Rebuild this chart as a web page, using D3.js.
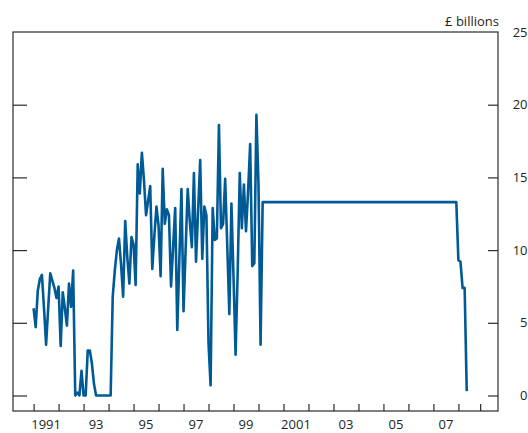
<!DOCTYPE html>
<html>
<head>
<meta charset="utf-8">
<script src="https://cdn.jsdelivr.net/npm/d3@7"></script>
<style>
  body { margin: 0; background: #fff; }
  svg { display: block; }
  text { font-family: "Open Sans", "Noto Sans", sans-serif; fill: #231f20; }
</style>
</head>
<body>
<svg id="chart" width="528" height="433"></svg>
<script>
// Monthly values, £ billions, one array per calendar year (Jan..Dec)
const y1991 = [6.0, 4.7, 7.2, 8.0, 8.3, 6.0, 3.5, 6.0, 8.4, 7.9, 7.4, 6.7];
const y1992 = [7.5, 3.4, 7.1, 6.0, 4.8, 7.7, 6.1, 8.6, 0.0, 0.2, 0.0, 1.7];
const y1993 = [0.0, 0.0, 3.1, 3.1, 2.2, 0.8, 0.0, 0.0, 0.0, 0.0, 0.0, 0.0];
const y1994 = [0.0, 0.0, 6.8, 8.6, 10.0, 10.8, 9.0, 6.8, 12.0, 9.5, 7.7, 10.9];
const y1995 = [10.4, 7.6, 15.9, 13.9, 16.7, 14.8, 12.4, 13.4, 14.4, 8.7, 11.0, 13.0];
const y1996 = [11.7, 8.2, 15.6, 11.8, 12.8, 12.4, 7.5, 10.2, 12.9, 4.5, 9.4, 14.2];
const y1997 = [5.8, 10.0, 14.2, 12.0, 10.2, 15.3, 9.2, 12.7, 16.2, 9.4, 13.0, 12.4];
const y1998 = [3.6, 0.7, 12.9, 10.7, 10.8, 18.6, 11.5, 11.8, 14.9, 10.3, 5.6, 13.2];
const y1999 = [8.2, 2.8, 8.5, 15.3, 11.5, 14.5, 11.3, 14.0, 17.3, 8.9, 9.1, 19.3];
const y2000 = [14.5, 3.5, 13.3, 13.3, 13.3, 13.3, 13.3, 13.3, 13.3, 13.3, 13.3, 13.3];
const y2001 = [13.3, 13.3, 13.3, 13.3, 13.3, 13.3, 13.3, 13.3, 13.3, 13.3, 13.3, 13.3];
const y2002 = [13.3, 13.3, 13.3, 13.3, 13.3, 13.3, 13.3, 13.3, 13.3, 13.3, 13.3, 13.3];
const y2003 = [13.3, 13.3, 13.3, 13.3, 13.3, 13.3, 13.3, 13.3, 13.3, 13.3, 13.3, 13.3];
const y2004 = [13.3, 13.3, 13.3, 13.3, 13.3, 13.3, 13.3, 13.3, 13.3, 13.3, 13.3, 13.3];
const y2005 = [13.3, 13.3, 13.3, 13.3, 13.3, 13.3, 13.3, 13.3, 13.3, 13.3, 13.3, 13.3];
const y2006 = [13.3, 13.3, 13.3, 13.3, 13.3, 13.3, 13.3, 13.3, 13.3, 13.3, 13.3, 13.3];
const y2007 = [13.3, 13.3, 13.3, 13.3, 13.3, 13.3, 13.3, 13.3, 13.3, 13.3, 13.3, 13.3];
const y2008 = [9.3, 9.2, 7.4, 7.4, 0.3];

const seriesYears = [1991, 1992, 1993, 1994, 1995, 1996, 1997, 1998, 1999,
                     2000, 2001, 2002, 2003, 2004, 2005, 2006, 2007, 2008];
const seriesValues = [y1991, y1992, y1993, y1994, y1995, y1996, y1997, y1998, y1999,
                      y2000, y2001, y2002, y2003, y2004, y2005, y2006, y2007, y2008];

// Axis furniture
const yTickValues = [0, 5, 10, 15, 20, 25];
const xTickYears = [1991, 1992, 1993, 1994, 1995, 1996, 1997, 1998, 1999, 2000,
                    2001, 2002, 2003, 2004, 2005, 2006, 2007, 2008, 2008.87];
const xLabelYears = [1991, 1993, 1995, 1997, 1999, 2001, 2003, 2005, 2007];
const xLabelText = ["1991", "93", "95", "97", "99", "2001", "03", "05", "07"];
const unitLabel = "£ billions";

// Flatten into monthly points
const points = [];
seriesValues.forEach((vals, i) => {
  vals.forEach((v, m) => points.push({ t: seriesYears[i] + m / 12, v }));
});

const svg = d3.select("#chart");
const frame = { left: 13, right: 498, top: 32, bottom: 411 };

const x = d3.scaleLinear().domain([1991, 2008]).range([33.6, 458.4]);
const y = d3.scaleLinear().domain([0, 25]).range([395.5, frame.top]);

const ink = "#2b2b2b";

// Plot frame
svg.append("rect")
  .attr("x", frame.left).attr("y", frame.top)
  .attr("width", frame.right - frame.left)
  .attr("height", frame.bottom - frame.top)
  .attr("fill", "none").attr("stroke", ink).attr("stroke-width", 1.2);

// Right value axis: inward ticks + labels outside the frame
const rightAxis = d3.axisLeft(y).tickValues(yTickValues.filter(d => d < 25))
  .tickSize(10).tickFormat("");
const gR = svg.append("g").attr("transform", `translate(${frame.right},0)`).call(rightAxis);
gR.select(".domain").remove();
gR.selectAll(".tick line").attr("stroke", ink).attr("stroke-width", 1.2);

// Left inward ticks
const leftAxis = d3.axisRight(y).tickValues(yTickValues.filter(d => d < 25))
  .tickSize(14).tickFormat("");
const gL = svg.append("g").attr("transform", `translate(${frame.left},0)`).call(leftAxis);
gL.select(".domain").remove();
gL.selectAll(".tick line").attr("stroke", ink).attr("stroke-width", 1.2);

svg.append("g").selectAll("text")
  .data(yTickValues).join("text")
  .attr("x", 527.5).attr("y", d => y(d))
  .attr("dy", "0.36em")
  .attr("text-anchor", "end")
  .attr("font-size", 13)
  .text(d => d);

// Bottom time axis: short inward ticks at year starts
const bottomAxis = d3.axisTop(x).tickValues(xTickYears).tickSize(7).tickFormat("");
const gB = svg.append("g").attr("transform", `translate(0,${frame.bottom})`).call(bottomAxis);
gB.select(".domain").remove();
gB.selectAll(".tick line").attr("stroke", ink).attr("stroke-width", 1.2);

svg.append("g").selectAll("text")
  .data(xLabelYears).join("text")
  .attr("x", d => x(d + 0.5)).attr("y", 429)
  .attr("text-anchor", "middle")
  .attr("font-size", 13)
  .text((d, i) => xLabelText[i]);

svg.append("text")
  .attr("x", 499).attr("y", 26)
  .attr("text-anchor", "end")
  .attr("font-size", 13)
  .text(unitLabel);

// Series line
const line = d3.line().x(d => x(d.t)).y(d => y(d.v));
svg.append("path")
  .datum(points)
  .attr("d", line)
  .attr("fill", "none")
  .attr("stroke", "#005a96")
  .attr("stroke-width", 2.6)
  .attr("stroke-linejoin", "round")
  .attr("stroke-linecap", "butt");
</script>
</body>
</html>
